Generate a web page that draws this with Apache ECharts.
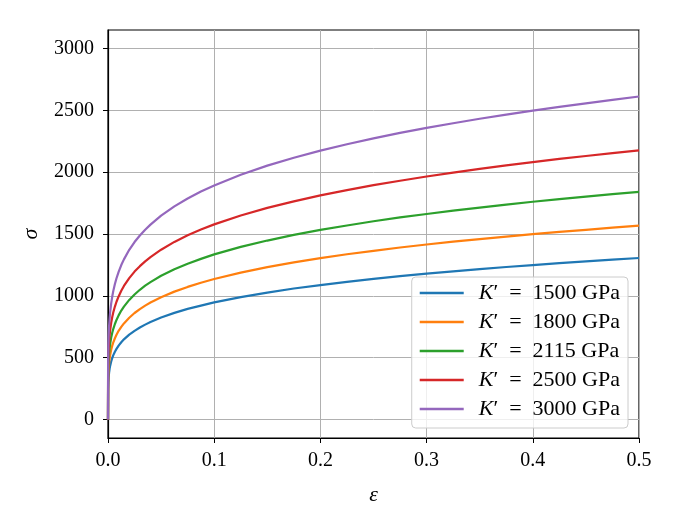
<!DOCTYPE html>
<html>
<head>
<meta charset="utf-8">
<script src="https://cdn.jsdelivr.net/npm/echarts@6/dist/echarts.min.js"></script>
<style>html,body{margin:0;padding:0;background:#fff}#c{width:675px;height:525px}</style>
</head>
<body>
<div id="c"></div>
<script>
// strain values (x)
const strain = [0, 0.0001, 0.0003, 0.0006, 0.001, 0.0015, 0.002, 0.003, 0.004, 0.005,
  0.0065, 0.008, 0.01, 0.0125, 0.015, 0.02, 0.025, 0.03, 0.035, 0.04,
  0.05, 0.0625, 0.075, 0.0875, 0.1, 0.125, 0.15, 0.175, 0.2, 0.225,
  0.25, 0.275, 0.3, 0.325, 0.35, 0.375, 0.4, 0.425, 0.45, 0.475, 0.5];
// stress values
const s1500 = [0, 238, 296, 340, 377, 409, 433, 469, 497, 520, 548, 571, 597, 624, 648, 686, 717, 744, 767, 788,
  824, 862, 894, 921, 947, 990, 1026, 1059, 1087, 1113, 1137, 1159, 1179, 1198, 1216, 1233, 1249, 1264, 1279, 1293, 1306];
const s1800 = [0, 285, 355, 408, 452, 490, 519, 563, 597, 624, 657, 685, 717, 749, 777, 823, 861, 893, 921, 946,
  989, 1034, 1072, 1106, 1136, 1188, 1232, 1270, 1305, 1336, 1364, 1391, 1415, 1438, 1459, 1479, 1499, 1517, 1534, 1551, 1567];
const s2115 = [0, 335, 418, 480, 531, 576, 610, 662, 701, 733, 772, 805, 842, 881, 913, 967, 1011, 1049, 1082, 1111,
  1162, 1215, 1260, 1299, 1335, 1396, 1447, 1493, 1533, 1569, 1603, 1634, 1662, 1689, 1714, 1738, 1761, 1782, 1803, 1823, 1841];
const s2500 = [0, 396, 494, 567, 628, 681, 721, 782, 829, 867, 913, 952, 995, 1041, 1080, 1143, 1196, 1240, 1279, 1313,
  1373, 1436, 1489, 1536, 1578, 1650, 1711, 1764, 1812, 1855, 1895, 1931, 1965, 1997, 2027, 2055, 2081, 2107, 2131, 2154, 2177];
const s3000 = [0, 476, 592, 680, 754, 817, 866, 939, 994, 1040, 1096, 1142, 1194, 1249, 1295, 1372, 1435, 1488, 1535, 1576,
  1648, 1723, 1787, 1843, 1893, 1979, 2053, 2117, 2174, 2226, 2274, 2318, 2358, 2396, 2432, 2466, 2498, 2528, 2557, 2585, 2612];
const moduli = ['1500', '1800', '2115', '2500', '3000'];
const xTicks = [0, 0.1, 0.2, 0.3, 0.4, 0.5];
const yTicks = [0, 500, 1000, 1500, 2000, 2500, 3000];

const colors = ['#1f77b4', '#ff7f0e', '#2ca02c', '#d62728', '#9467bd'];
const allSeries = [s1500, s1800, s2115, s2500, s3000];
const FONT = 'Liberation Serif';

const chart = echarts.init(document.getElementById('c'), null, {renderer: 'canvas'});
chart.setOption({
  animation: false,
  backgroundColor: '#fff',
  grid: {left: 108, right: 36, top: 30, bottom: 87, show: true, borderColor: '#000', borderWidth: 1.2, backgroundColor: 'transparent'},
  xAxis: {
    type: 'value', min: 0, max: 0.5,
    name: 'ε', nameLocation: 'middle', nameGap: 46,
    nameTextStyle: {fontFamily: FONT, fontSize: 22, fontStyle: 'italic', color: '#000'},
    axisLine: {show: true, onZero: false, lineStyle: {color: '#000', width: 1.2}},
    axisTick: {show: true, length: 5, lineStyle: {color: '#000'}, customValues: xTicks},
    axisLabel: {fontFamily: FONT, fontSize: 20, color: '#000', margin: 13, customValues: xTicks,
      formatter: v => v.toFixed(1)},
    splitLine: {show: true, lineStyle: {color: '#b0b0b0', width: 1}}
  },
  yAxis: {
    type: 'value', min: -150, max: 3150,
    name: 'σ', nameLocation: 'middle', nameGap: 66, nameRotate: 90,
    nameTextStyle: {fontFamily: FONT, fontSize: 22, fontStyle: 'italic', color: '#000'},
    axisLine: {show: true, onZero: false, lineStyle: {color: '#000', width: 1.2}},
    axisTick: {show: true, length: 5, lineStyle: {color: '#000'}, customValues: yTicks},
    axisLabel: {fontFamily: FONT, fontSize: 20, color: '#000', margin: 14, customValues: yTicks,
      formatter: v => String(v)},
    splitLine: {show: true, lineStyle: {color: '#b0b0b0', width: 1}}
  },
  legend: {
    orient: 'vertical', right: 47, bottom: 97,
    backgroundColor: 'rgba(255,255,255,0.8)', borderColor: '#cccccc', borderWidth: 1, borderRadius: 4,
    padding: [5, 8, 8, 8], itemGap: 7, itemWidth: 44, itemHeight: 20,
    icon: 'path://M0,0 L44,0 L44,2.5 L0,2.5 Z',
    textStyle: {fontFamily: FONT, fontSize: 22, color: '#000', padding: [0, 0, 0, 10],
      rich: {i: {fontFamily: FONT, fontSize: 22, fontStyle: 'italic', color: '#000'},
             n: {fontFamily: FONT, fontSize: 22, color: '#000'}}},
    formatter: name => '{i|K}{n|′  =  ' + name.replace('K′ = ', '') + '}'
  },
  series: allSeries.map((vals, i) => ({
    name: 'K′ = ' + moduli[i] + ' GPa',
    type: 'line', showSymbol: false, symbol: 'none', smooth: false,
    lineStyle: {color: colors[i], width: 2.2}, itemStyle: {color: colors[i]},
    clip: true,
    data: strain.map((x, j) => [x, vals[j]])
  }))
});
</script>
</body>
</html>
